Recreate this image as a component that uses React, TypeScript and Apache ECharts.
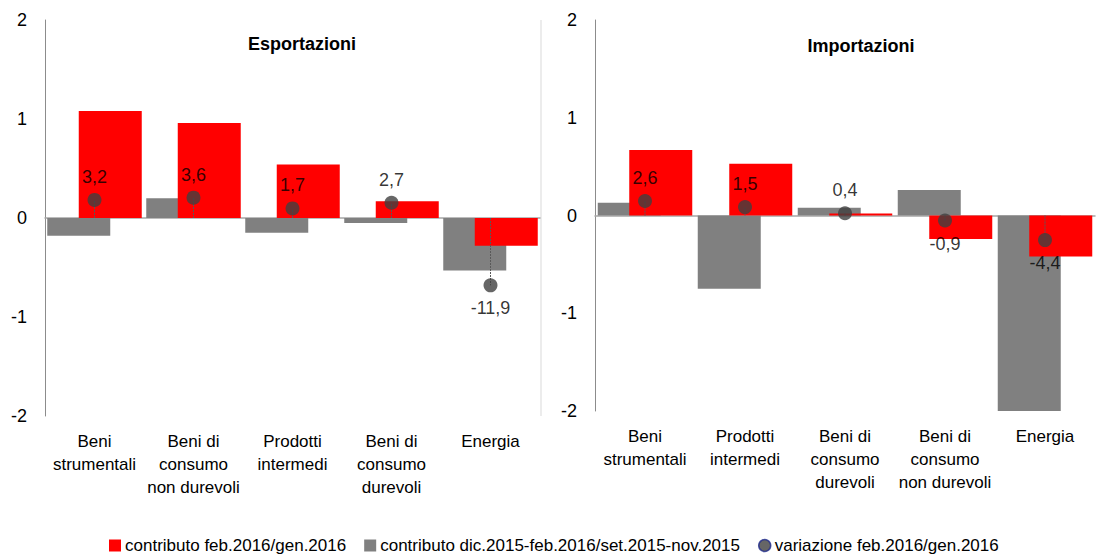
import React, { useEffect, useRef } from "react";
import * as echarts from "echarts";

const exportCategories = [
  "Beni\nstrumentali",
  "Beni di\nconsumo\nnon durevoli",
  "Prodotti\nintermedi",
  "Beni di\nconsumo\ndurevoli",
  "Energia",
];
const importCategories = [
  "Beni\nstrumentali",
  "Prodotti\nintermedi",
  "Beni di\nconsumo\ndurevoli",
  "Beni di\nconsumo\nnon durevoli",
  "Energia",
];

// contributo feb.2016/gen.2016
const exportMonthly = [1.08, 0.96, 0.54, 0.17, -0.28];
// contributo dic.2015-feb.2016/set.2015-nov.2015
const exportQuarterly = [-0.18, 0.2, -0.15, -0.05, -0.53];
// variazione feb.2016/gen.2016
const exportVariation = [3.2, 3.6, 1.7, 2.7, -11.9];

const importMonthly = [0.67, 0.53, 0.02, -0.24, -0.42];
const importQuarterly = [0.13, -0.75, 0.08, 0.26, -2.1];
const importVariation = [2.6, 1.5, 0.4, -0.9, -4.4];

const yTicks = { min: -2, max: 2, interval: 1 };
const varRange = { min: -35, max: 35 };

const RED = "#FF0000";
const GRAY = "#808080";
const DOT = "#404040";
const FONT = "'Liberation Sans', Arial, sans-serif";

const NAME_M = "contributo feb.2016/gen.2016";
const NAME_Q = "contributo dic.2015-feb.2016/set.2015-nov.2015";
const NAME_V = "variazione feb.2016/gen.2016";

function fmt(v: number) {
  return v.toFixed(1).replace(".", ",");
}

export default function App() {
  const ref = useRef<HTMLDivElement>(null);
  useEffect(() => {
    if (!ref.current) return;
    const chart = echarts.init(ref.current, null, { renderer: "svg" });

    const grids = [
      { left: 45, top: 20, width: 495, height: 396 },
      { left: 595, top: 20, width: 500, height: 391 },
    ];

    const xAxes: any[] = [];
    const yAxes: any[] = [];
    const series: any[] = [];
    const panels = [
      { cats: exportCategories, m: exportMonthly, q: exportQuarterly, v: exportVariation },
      { cats: importCategories, m: importMonthly, q: importQuarterly, v: importVariation },
    ];

    panels.forEach((p, gi) => {
      // label axis at bottom
      xAxes.push({
        type: "category",
        gridIndex: gi,
        data: p.cats,
        position: "bottom",
        axisLine: { show: false, onZero: false },
        axisTick: { show: false },
        axisLabel: {
          color: "#000",
          fontSize: 17,
          fontFamily: FONT,
          lineHeight: 23,
          margin: 14,
          interval: 0,
        },
      });
      // zero line axis
      xAxes.push({
        type: "category",
        gridIndex: gi,
        data: p.cats,
        position: "bottom",
        axisLine: { show: true, onZero: true, onZeroAxisIndex: gi * 2, lineStyle: { color: "#a6a6a6", width: 1.5 } },
        axisTick: { show: false },
        axisLabel: { show: false },
      });
      yAxes.push({
        type: "value",
        gridIndex: gi,
        min: yTicks.min,
        max: yTicks.max,
        interval: yTicks.interval,
        axisLine: { show: true, lineStyle: { color: "#8c8c8c", width: 1 } },
        axisTick: { show: false },
        splitLine: { show: false },
        axisLabel: { color: "#000", fontSize: 18, fontFamily: FONT, margin: 18 },
      });
      yAxes.push({
        type: "value",
        gridIndex: gi,
        min: varRange.min,
        max: varRange.max,
        show: false,
        splitLine: { show: false },
      });

      const xi = gi * 2;
      series.push({
        name: NAME_Q,
        type: "bar",
        xAxisIndex: xi,
        yAxisIndex: gi * 2,
        data: p.q,
        barWidth: 63,
        itemStyle: { color: GRAY },
        z: 2,
      });
      series.push({
        name: NAME_M,
        type: "bar",
        xAxisIndex: xi,
        yAxisIndex: gi * 2,
        data: p.m,
        barWidth: 63,
        barGap: "-50%",
        itemStyle: { color: RED },
        z: 3,
      });
      series.push({
        type: "custom",
        xAxisIndex: xi,
        yAxisIndex: gi * 2 + 1,
        data: p.v.map((v, i) => [i, v]),
        z: 4,
        silent: true,
        renderItem: (params: any, api: any) => {
          const a = api.coord([api.value(0), 0]);
          const b = api.coord([api.value(0), api.value(1)]);
          return {
            type: "line",
            shape: { x1: a[0], y1: a[1], x2: b[0], y2: b[1] },
            style: { stroke: "#595959", lineWidth: 1, lineDash: [2, 1] },
          };
        },
      });
      series.push({
        name: NAME_V,
        type: "scatter",
        xAxisIndex: xi,
        yAxisIndex: gi * 2 + 1,
        data: p.v.map((v) => ({
          value: v,
          label: { position: v >= 0 ? "top" : "bottom" },
        })),
        symbol: "circle",
        symbolSize: 14,
        itemStyle: { color: DOT, borderColor: "#1F2A5C", borderWidth: 0 },
        label: {
          show: true,
          color: "#000",
          fontSize: 18,
          fontFamily: FONT,
          distance: 7,
          formatter: (d: any) => fmt(d.value),
        },
        z: 5,
      });
    });

    chart.setOption({
      animation: false,
      backgroundColor: "#fff",
      textStyle: { fontFamily: FONT },
      title: [
        {
          text: "Esportazioni",
          left: 297,
          top: 30,
          textAlign: "center",
          textStyle: { fontSize: 18, fontWeight: "bold", color: "#000", fontFamily: FONT },
        },
        {
          text: "Importazioni",
          left: 856,
          top: 32,
          textAlign: "center",
          textStyle: { fontSize: 18, fontWeight: "bold", color: "#000", fontFamily: FONT },
        },
      ],
      legend: {
        left: 104,
        top: 532,
        itemWidth: 12,
        itemHeight: 12,
        itemGap: 18,
        data: [
          { name: NAME_M, icon: "rect", itemStyle: { color: RED } },
          { name: NAME_Q, icon: "rect", itemStyle: { color: GRAY } },
          { name: NAME_V, icon: "circle", itemStyle: { color: DOT, borderColor: "#1F2A8C", borderWidth: 1.5 } },
        ],
        textStyle: { fontSize: 17, color: "#000", fontFamily: FONT, padding: [0, 0, 0, -1] },
        selectedMode: false,
      },
      grid: grids,
      xAxis: xAxes,
      yAxis: yAxes,
      series,
      graphic: [
        {
          type: "line",
          shape: { x1: 541, y1: 20, x2: 541, y2: 416 },
          style: { stroke: "#d9d9d9", lineWidth: 1 },
          silent: true,
        },
      ],
    });
    return () => chart.dispose();
  }, []);
  return (
    <div
      ref={ref}
      style={{ position: "absolute", left: 0, top: 0, width: 1100, height: 557 }}
    />
  );
}
